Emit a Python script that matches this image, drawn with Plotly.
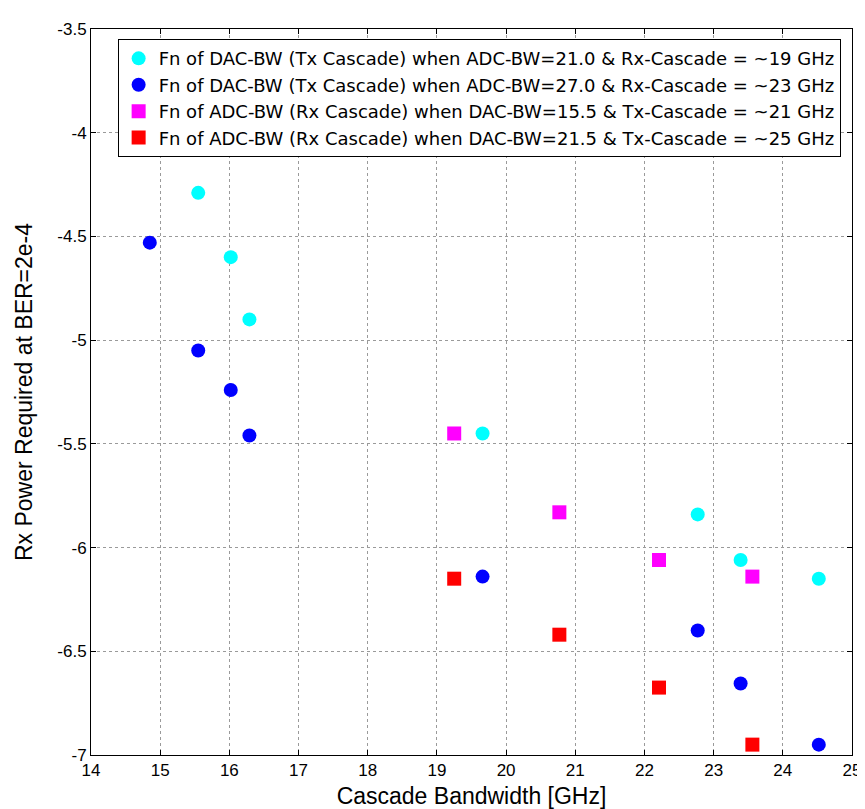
import plotly.graph_objects as go

# Data
cyan_x = [15.55, 16.02, 16.29, 19.66, 22.77, 23.39, 24.52]
cyan_y = [-4.29, -4.60, -4.90, -5.45, -5.84, -6.06, -6.15]
blue_x = [14.85, 15.55, 16.02, 16.29, 19.66, 22.77, 23.39, 24.52]
blue_y = [-4.53, -5.05, -5.24, -5.46, -6.14, -6.40, -6.655, -6.95]
mag_x = [19.25, 20.77, 22.21, 23.56]
mag_y = [-5.45, -5.83, -6.06, -6.14]
red_x = [19.25, 20.77, 22.21, 23.56]
red_y = [-6.15, -6.42, -6.675, -6.95]

names = [
    "Fn of DAC-BW (Tx Cascade) when ADC-BW=21.0 & Rx-Cascade = ~19 GHz",
    "Fn of DAC-BW (Tx Cascade) when ADC-BW=27.0 & Rx-Cascade = ~23 GHz",
    "Fn of ADC-BW (Rx Cascade) when DAC-BW=15.5 & Tx-Cascade = ~21 GHz",
    "Fn of ADC-BW (Rx Cascade) when DAC-BW=21.5 & Tx-Cascade = ~25 GHz",
]

x_ticks = list(range(14, 26))
y_ticks = [-3.5, -4, -4.5, -5, -5.5, -6, -6.5, -7]
y_tick_text = ["-3.5", "-4", "-4.5", "-5", "-5.5", "-6", "-6.5", "-7"]
x_tick_text = [str(v) for v in x_ticks]

FONT = "Liberation Sans, Arial, sans-serif"

fig = go.Figure()
series = [
    (cyan_x, cyan_y, "#00FFFF", "circle"),
    (blue_x, blue_y, "#0000FF", "circle"),
    (mag_x, mag_y, "#FF00FF", "square"),
    (red_x, red_y, "#FF0000", "square"),
]
for i, (xs, ys, col, sym) in enumerate(series):
    fig.add_trace(go.Scatter(
        x=xs, y=ys, mode="markers", name=names[i],
        marker=dict(color=col, symbol=sym, size=14, line=dict(width=0)),
    ))

axis_common = dict(
    showline=True, linecolor="black", linewidth=1, mirror="ticks",
    ticks="inside", ticklen=5, tickcolor="black",
    showgrid=True, gridcolor="#9a9a9a", griddash="dot", gridwidth=1,
    zeroline=False, tickfont=dict(family=FONT, size=17, color="black"),
)

fig.update_xaxes(
    range=[14, 25], tickvals=x_ticks, ticktext=x_tick_text,
    title=dict(text="Cascade Bandwidth [GHz]", font=dict(family=FONT, size=23, color="black"), standoff=8),
    **axis_common,
)
fig.update_yaxes(
    range=[-7, -3.5], tickvals=y_ticks, ticktext=y_tick_text,
    title=dict(text="Rx Power Required at BER=2e-4", font=dict(family=FONT, size=23, color="black"), standoff=18),
    **axis_common,
)

fig.update_layout(
    width=865, height=809,
    margin=dict(l=83, r=13, t=15, b=61),
    paper_bgcolor="white", plot_bgcolor="white",
    font=dict(family=FONT, color="black"),
    legend=dict(
        x=0.035, y=0.986, xanchor="left", yanchor="top",
        bgcolor="white", bordercolor="black", borderwidth=1,
        font=dict(family="DejaVu Sans, sans-serif", size=18, color="black"),
        tracegroupgap=0,
    ),
    showlegend=True,
)

fig.write_html("out.html")
